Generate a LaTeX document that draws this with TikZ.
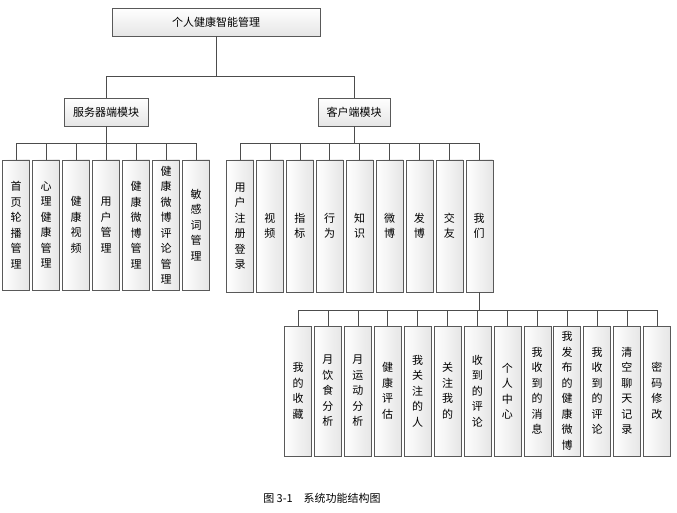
\documentclass[tikz,border=0pt]{standalone}
\usepackage{fontspec}
\setmainfont{Noto Sans CJK SC}
\usetikzlibrary{positioning}
\begin{document}
\begin{tikzpicture}[x=1pt,y=-1pt,
    topbox/.style={rectangle, draw=gray!70!black, top color=white, bottom color=gray!20, font=\fontsize{11}{13}\selectfont, inner sep=0pt},
    leafbox/.style={rectangle, draw=gray!70!black, left color=white, right color=gray!20, minimum width=27pt, text width=27pt, align=center, font=\fontsize{11}{15.5}\selectfont, inner sep=0pt},
    link/.style={draw=gray!60!black, line width=0.6pt},
  ]
  \useasboundingbox (0,0) rectangle (677,513);
  %Nodes
  \node[topbox, minimum width=208pt, minimum height=28pt] (root) at (216,22) {个人健康智能管理};
  \node[topbox, minimum width=84pt, minimum height=28pt] (server) at (106,112) {服务器端模块};
  \node[topbox, minimum width=72pt, minimum height=28pt] (client) at (354,112) {客户端模块};

  \foreach \i/\t in {1/首\\页\\轮\\播\\管\\理, 2/心\\理\\健\\康\\管\\理, 3/健\\康\\视\\频,
                     4/用\\户\\管\\理, 5/健\\康\\微\\博\\管\\理, 6/健\\康\\微\\博\\评\\论\\管\\理, 7/敏\\感\\词\\管\\理}
    \node[leafbox, minimum height=130pt] (s\i) at ({16+30*(\i-1)},225) {\t};

  \foreach \i/\t in {1/用\\户\\注\\册\\登\\录, 2/视\\频, 3/指\\标, 4/行\\为, 5/知\\识,
                     6/微\\博, 7/发\\博, 8/交\\友, 9/我\\们}
    \node[leafbox, minimum height=132pt] (c\i) at ({240+29.9*(\i-1)},226) {\t};

  \foreach \i/\t in {1/我\\的\\收\\藏, 2/月\\饮\\食\\分\\析, 3/月\\运\\动\\分\\析, 4/健\\康\\评\\估,
                     5/我\\关\\注\\的\\人, 6/关\\注\\我\\的, 7/收\\到\\的\\评\\论, 8/个\\人\\中\\心,
                     9/我\\收\\到\\的\\消\\息, 10/我\\发\\布\\的\\健\\康\\微\\博, 11/我\\收\\到\\的\\评\\论,
                     12/清\\空\\聊\\天\\记\\录, 13/密\\码\\修\\改}
    \node[leafbox, minimum height=130pt] (w\i) at ({298+29.9*(\i-1)},391) {\t};

  %Lines
  \draw[link] (root.south) -- ++(0,40) coordinate (rb);
  \draw[link] (server.north) |- (rb) -| (client.north);
  \draw[link] (server.south) -- ++(0,17) coordinate (sb);
  \draw[link] (s1.north) |- (sb) -| (s7.north);
  \foreach \i in {2,...,6} \draw[link] (s\i.north) -- (s\i.north |- sb);
  \draw[link] (client.south) -- ++(0,17) coordinate (cb);
  \draw[link] (c1.north) |- (cb) -| (c9.north);
  \foreach \i in {2,...,8} \draw[link] (c\i.north) -- (c\i.north |- cb);
  \draw[link] (c9.south) -- ++(0,18) coordinate (wb);
  \draw[link] (w1.north) |- (wb) -| (w13.north);
  \foreach \i in {2,...,12} \draw[link] (w\i.north) -- (w\i.north |- wb);

  \node[font=\fontsize{11}{13}\selectfont] (cap) at (322,498) {图 3-1\quad 系统功能结构图};
\end{tikzpicture}
\end{document}
